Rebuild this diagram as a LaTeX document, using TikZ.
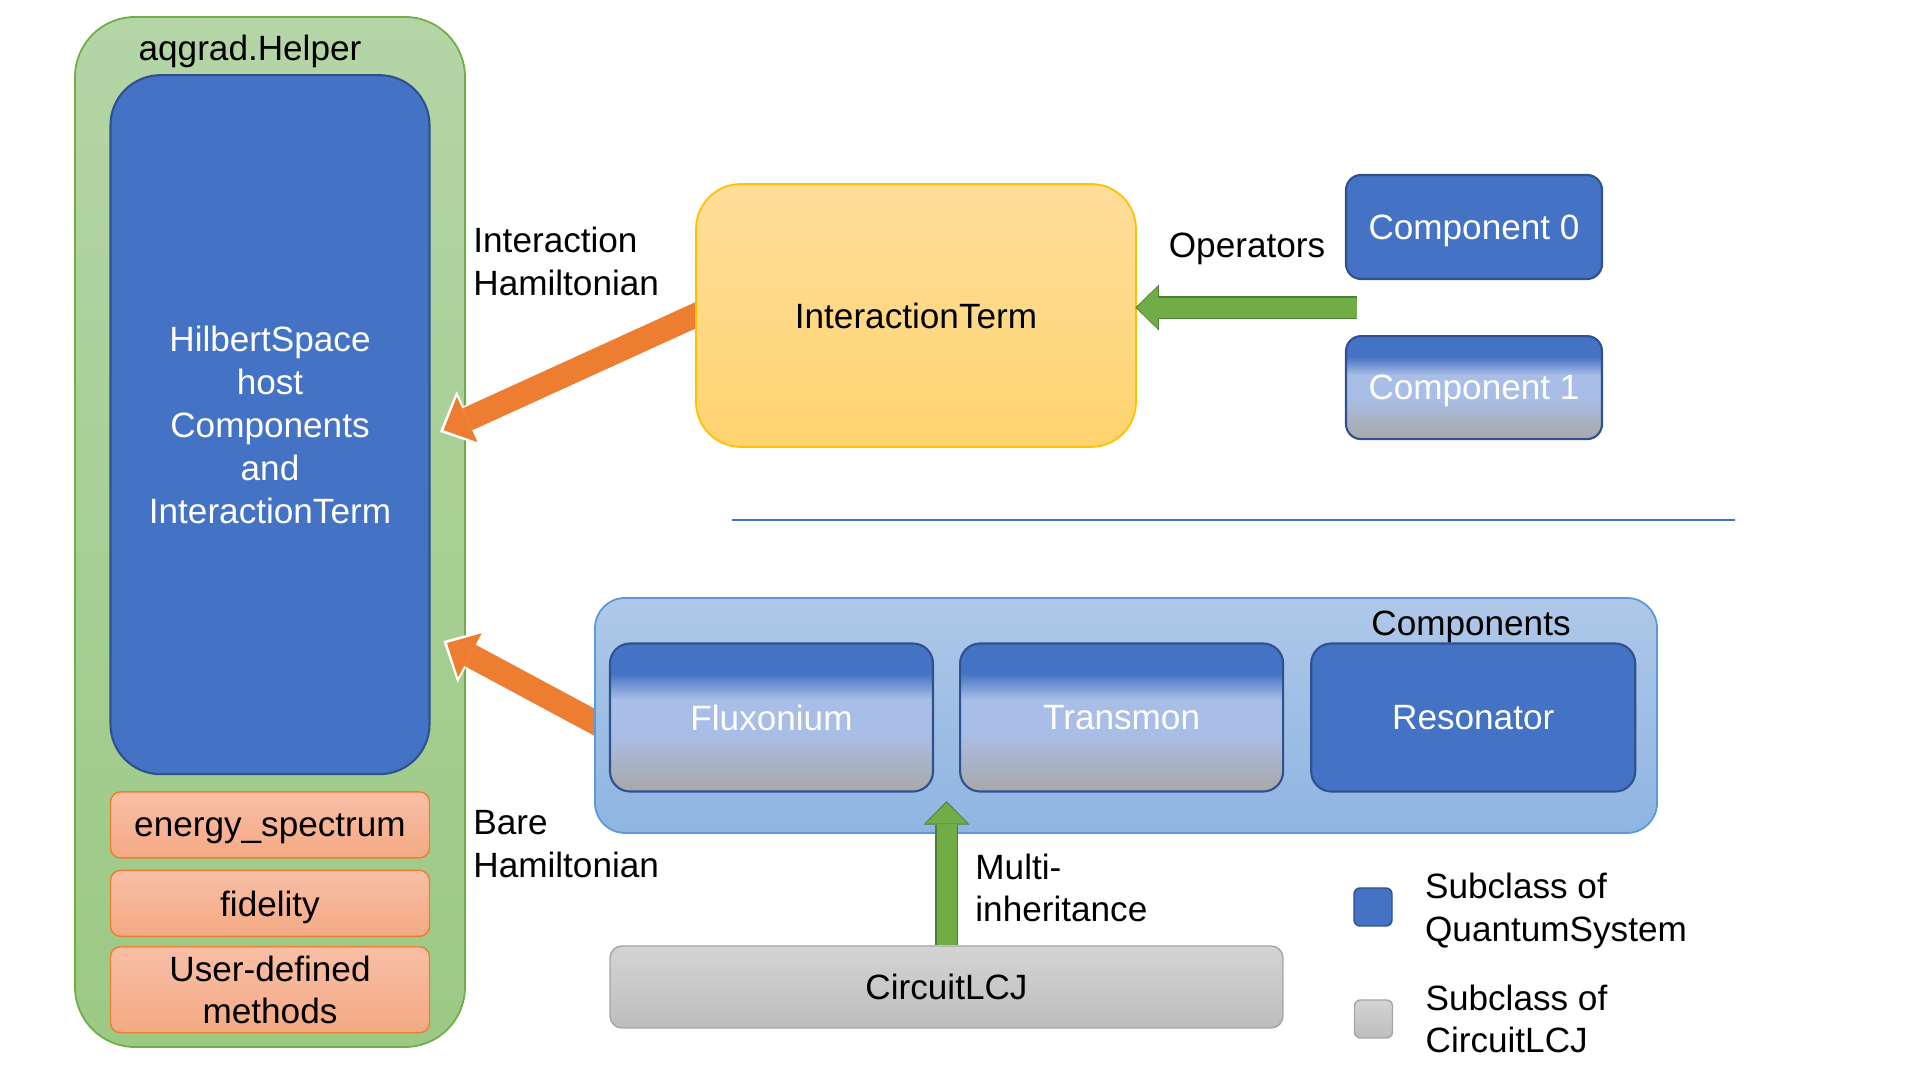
\documentclass[tikz,border=0pt]{standalone}
\usepackage{fontspec}
\setmainfont{Liberation Sans}
\usetikzlibrary{positioning,arrows.meta,calc}

\definecolor{helpertop}{HTML}{B4D5A6}
\definecolor{helperbot}{HTML}{9CC984}
\definecolor{helperedge}{HTML}{70AD47}
\definecolor{qsblue}{HTML}{4472C4}
\definecolor{qsedge}{HTML}{2F528F}
\definecolor{qslight}{HTML}{A9BEE6}
\definecolor{qsgray}{HTML}{A8A8A8}
\definecolor{methodtop}{HTML}{F8BFA6}
\definecolor{methodbot}{HTML}{F4A984}
\definecolor{methodedge}{HTML}{ED7D31}
\definecolor{intertop}{HTML}{FFDE9B}
\definecolor{interbot}{HTML}{FFD36F}
\definecolor{interedge}{HTML}{FFC000}
\definecolor{grouptop}{HTML}{AEC8E8}
\definecolor{groupbot}{HTML}{8FB5E2}
\definecolor{groupedge}{HTML}{5B9BD5}
\definecolor{circtop}{HTML}{D4D4D4}
\definecolor{circbot}{HTML}{BDBDBD}
\definecolor{circedge}{HTML}{A5A5A5}
\definecolor{hamorange}{HTML}{ED7D31}
\definecolor{opgreen}{HTML}{70AD47}
\definecolor{opdark}{HTML}{507E32}
\definecolor{sepblue}{HTML}{4472C4}

\pgfdeclareverticalshading{qsfade}{100bp}{color(0bp)=(qsgray); color(25bp)=(qsgray);
  color(45bp)=(qslight); color(56bp)=(qslight); color(65bp)=(qsblue); color(100bp)=(qsblue)}

\pgfdeclarelayer{back}
\pgfdeclarelayer{links}
\pgfsetlayers{back,links,main}

\begin{document}
\begin{tikzpicture}[
      font=\fontsize{10}{12.2}\selectfont,
      helperbox/.style={draw=helperedge, top color=helpertop, bottom color=helperbot,
                    rounded corners=0.6cm, minimum width=3.9cm, minimum height=10.3cm, line width=0.5pt},
      qsbox/.style={draw=qsedge, fill=qsblue, text=white, line width=0.6pt, align=center,
                    text depth=0pt},
      fadebox/.style={draw=qsedge, shade, shading=qsfade, text=white, line width=0.6pt,
                    rounded corners=0.2cm, minimum width=3.23cm, minimum height=1.48cm, text depth=0pt},
      methodbox/.style={draw=methodedge, top color=methodtop, bottom color=methodbot,
                    rounded corners=0.1cm, minimum width=3.19cm, line width=0.4pt, align=center,
                    inner ysep=0.04cm, text depth=0pt},
      termbox/.style={draw=interedge, top color=intertop, bottom color=interbot,
                    rounded corners=0.45cm, minimum width=4.4cm, minimum height=2.63cm, line width=0.5pt},
      groupbox/.style={draw=groupedge, top color=grouptop, bottom color=groupbot,
                    rounded corners=0.3cm, minimum width=10.62cm, minimum height=2.35cm, line width=0.5pt},
      lcjbox/.style={draw=circedge, top color=circtop, bottom color=circbot, text depth=0pt,
                    rounded corners=0.12cm, minimum width=6.73cm, minimum height=0.82cm, line width=0.4pt},
      legendsq/.style={minimum size=0.38cm, inner sep=0pt, rounded corners=0.06cm, line width=0.4pt},
      annot/.style={align=left, anchor=west},
      sepline/.style={draw=sepblue, line width=0.6pt},
      hamarrow/.style={draw=hamorange, line width=0.24cm,
                    -{Triangle[length=0.26cm, width=0.50cm, line width=0pt]}},
      hamhalo/.style={draw=white, line width=0.27cm, shorten >=-0.04cm,
                    -{Triangle[length=0.32cm, width=0.60cm, line width=0pt]}},
      opedge/.style={draw=opdark, line width=0.23cm, shorten >=-0.015cm,
                    -{Triangle[length=0.235cm, width=0.46cm, line width=0pt]}},
      oparrow/.style={draw=opgreen, line width=0.20cm,
                    -{Triangle[length=0.21cm, width=0.42cm, line width=0pt]}}
  ]
  \useasboundingbox (0,0) rectangle (19.2,10.8);

  %% ---- Helper (left column) ----
  \begin{pgfonlayer}{back}
  \node[helperbox] (helper) at (2.70,5.48) {};
  \node (title) at (2.50,10.29) {aqgrad.Helper};
  \node[qsbox, rounded corners=0.5cm, minimum width=3.19cm, minimum height=6.99cm,
        below=0.58cm of helper.north] (hilbert)
      {HilbertSpace\\host\\Components\\and\\InteractionTerm};
  \node[methodbox, minimum height=0.66cm, below=0.16cm of hilbert] (energy) {energy\_spectrum};
  \node[methodbox, minimum height=0.66cm, below=0.11cm of energy] (fidelity) {fidelity};
  \node[methodbox, minimum height=0.86cm, below=0.09cm of fidelity] (userdef) {User-defined\\methods};
  \end{pgfonlayer}

  %% ---- InteractionTerm and its operators ----
  \node[termbox] (interaction) at (9.16,7.645) {InteractionTerm};
  \node[qsbox, rounded corners=0.15cm, minimum width=2.56cm, minimum height=1.04cm]
      (comp0) at (14.74,8.53) {Component 0};
  \node[fadebox, rounded corners=0.15cm, minimum width=2.56cm, minimum height=1.03cm,
        below=0.55cm of comp0] (comp1) {Component 1};
  \node (ops) at (12.47,8.31) {Operators};

  %% ---- Separator ----
  \coordinate (sepL) at (7.32,5.60);
  \coordinate (sepR) at (17.35,5.60);
  \draw[sepline] (sepL) -- (sepR);

  %% ---- Components ----
  \node[groupbox] (components) at (11.26,3.645) {};
  \node[fadebox] (fluxonium) at (7.715,3.625) {Fluxonium};
  \node[fadebox, right=0.25cm of fluxonium] (transmon) {Transmon};
  \node[qsbox, rounded corners=0.2cm, minimum width=3.24cm, minimum height=1.48cm,
        right=0.26cm of transmon] (resonator) {Resonator};
  \node (complabel) at (14.71,4.535) {Components};

  \node[lcjbox] (circuit) at (9.465,0.93) {CircuitLCJ};

  %% ---- Legend ----
  \node[legendsq, fill=qsblue, draw=qsedge] (legqs) at (13.73,1.73) {};
  \node[right=0.2cm of legqs, align=left, yshift=-0.035cm] (legqstext) {Subclass of\\QuantumSystem};
  \node[legendsq, top color=circtop, bottom color=circbot, draw=circedge] (leglcj) at (13.735,0.61) {};
  \node[right=0.2cm of leglcj, align=left] (leglcjtext) {Subclass of\\CircuitLCJ};

  %% ---- Edge labels ----
  \node[annot] (intham) at (4.61,8.185) {Interaction\\Hamiltonian};
  \node[annot] (bareham) at (4.61,2.355) {Bare\\Hamiltonian};
  \node[annot] (multi) at (9.63,1.92) {Multi-\\inheritance};

  %% ---- Connections ----
  \coordinate (hamTip) at ($(hilbert.east)+(0.13,-0.055)$);
  \coordinate (bareSrc) at ($(components.west)+(0,-0.065)$);
  \coordinate (bareTip) at (4.47,4.37);

  % Hamiltonians into the HilbertSpace (tails hidden under the boxes)
  \begin{pgfonlayer}{links}
    \draw[hamhalo] ($(interaction.west)!-0.1!(hamTip)$) -- (hamTip);
    \draw[hamarrow] ($(interaction.west)!-0.1!(hamTip)$) -- (hamTip);
    \draw[hamhalo] ($(bareSrc)!-0.1!(bareTip)$) -- (bareTip);
    \draw[hamarrow] ($(bareSrc)!-0.1!(bareTip)$) -- (bareTip);
  \end{pgfonlayer}

  % Operators into InteractionTerm
  \coordinate (opSrc) at ($(comp0.south west)!0.5!(comp1.north west)+(0.12,0)$);
  \draw[opedge] (opSrc) -- (interaction.east |- opSrc);
  \draw[oparrow] (opSrc) -- (interaction.east |- opSrc);

  % CircuitLCJ up into the components
  \coordinate (inhTip) at ($(circuit.north |- fluxonium.south)+(0,-0.1)$);
  \draw[opedge] (circuit.north) -- (inhTip);
  \draw[oparrow] (circuit.north) -- (inhTip);

\end{tikzpicture}
\end{document}
